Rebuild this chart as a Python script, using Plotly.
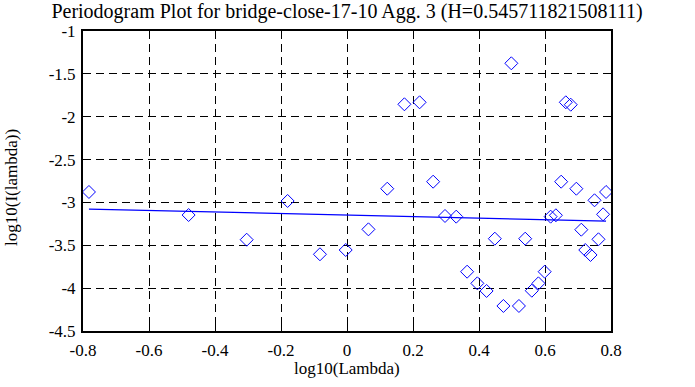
import plotly.graph_objects as go

# Periodogram points (log10 lambda, log10 I(lambda))
log_lambda = [-0.782, -0.480, -0.304, -0.180, -0.082, -0.004, 0.065, 0.122, 0.174, 0.220,
              0.261, 0.297, 0.331, 0.364, 0.395, 0.423, 0.448, 0.474, 0.498, 0.521,
              0.540, 0.560, 0.580, 0.599, 0.617, 0.633, 0.649, 0.663, 0.678, 0.695,
              0.710, 0.722, 0.738, 0.750, 0.762, 0.776, 0.785]
log_I = [-2.878, -3.147, -3.435, -2.983, -3.605, -3.555, -3.314, -2.840, -1.855, -1.832,
         -2.758, -3.158, -3.166, -3.808, -3.944, -4.033, -3.423, -4.208, -1.377, -4.208,
         -3.423, -4.030, -3.944, -3.808, -3.166, -3.150, -2.758, -1.832, -1.860, -2.840,
         -3.318, -3.555, -3.613, -2.975, -3.430, -3.139, -2.878]

# Fitted regression line endpoints
fit_x = [-0.782, 0.785]
fit_y = [-3.077, -3.219]

x_ticks = [-0.8, -0.6, -0.4, -0.2, 0, 0.2, 0.4, 0.6, 0.8]
x_tick_labels = ["-0.8", "-0.6", "-0.4", "-0.2", "0", "0.2", "0.4", "0.6", "0.8"]
y_ticks = [-1, -1.5, -2, -2.5, -3, -3.5, -4, -4.5]
y_tick_labels = ["-1", "-1.5", "-2", "-2.5", "-3", "-3.5", "-4", "-4.5"]

title_text = "Periodogram Plot for bridge-close-17-10 Agg. 3 (H=0.545711821508111)"
x_title = "log10(Lambda)"
y_title = "log10(I(lambda))"

FONT = "Liberation Serif, Times New Roman, serif"
BLUE = "#0000ff"

fig = go.Figure()
fig.add_trace(go.Scatter(
    x=fit_x, y=fit_y, mode="lines",
    line=dict(color=BLUE, width=1.2), showlegend=False, hoverinfo="skip"))
fig.add_trace(go.Scatter(
    x=log_lambda, y=log_I, mode="markers",
    marker=dict(symbol="diamond-open", size=10, color=BLUE, line=dict(color=BLUE, width=1)),
    showlegend=False))

axis_common = dict(
    showline=True, linecolor="black", linewidth=2, mirror="ticks",
    ticks="inside", ticklen=6, tickwidth=1, tickcolor="black",
    showgrid=True, gridcolor="black", gridwidth=1, griddash="8px,5px",
    zeroline=False, automargin=False,
    tickfont=dict(family=FONT, size=17, color="black"),
)

fig.update_xaxes(range=[-0.8, 0.8], tickvals=x_ticks, ticktext=x_tick_labels,
                 ticklabelstandoff=3, **axis_common)
fig.update_yaxes(range=[-4.5, -1], tickvals=y_ticks, ticktext=y_tick_labels,
                 ticklabelstandoff=2, **axis_common)

fig.add_annotation(text=x_title, xref="paper", yref="paper", x=0.5, y=-37 / 300,
                   xanchor="center", yanchor="middle", showarrow=False,
                   font=dict(family=FONT, size=17, color="black"))
fig.add_annotation(text=y_title, xref="paper", yref="paper", x=-72 / 528, y=143 / 300,
                   xanchor="center", yanchor="middle", textangle=-90, showarrow=False,
                   font=dict(family=FONT, size=17, color="black"))

fig.update_layout(
    width=695, height=387,
    margin=dict(l=83, r=84, t=31, b=56),
    paper_bgcolor="white", plot_bgcolor="white",
    title=dict(text=title_text, x=0.5, xref="paper", xanchor="center",
               y=1 - 11 / 387, yref="container", yanchor="middle",
               font=dict(family=FONT, size=20, color="black")),
    font=dict(family=FONT, size=17, color="black"),
)

fig.write_html("out.html", config={"displayModeBar": False},
               post_script="document.body.style.margin='0';")
